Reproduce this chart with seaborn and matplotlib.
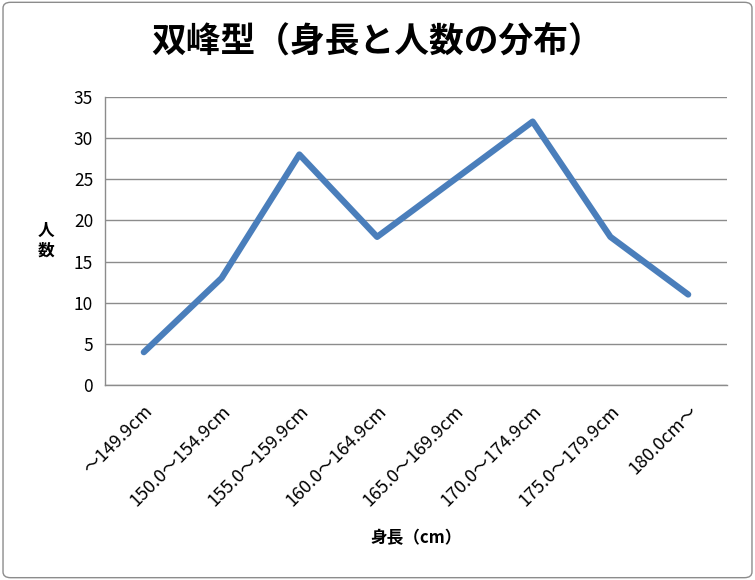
import matplotlib
matplotlib.use('Agg')
import matplotlib.pyplot as plt
import seaborn as sns
import pandas as pd
from matplotlib.patches import FancyBboxPatch

# data
categories = ['～149.9cm', '150.0～154.9cm', '155.0～159.9cm', '160.0～164.9cm',
              '165.0～169.9cm', '170.0～174.9cm', '175.0～179.9cm', '180.0cm～']
counts = [4, 13, 28, 18, 25, 32, 18, 11]
y_ticks = [0, 5, 10, 15, 20, 25, 30, 35]

df = pd.DataFrame({'height': categories, 'count': counts})

sns.set_style('white', {'text.color': 'black', 'xtick.color': 'black',
                        'ytick.color': 'black', 'axes.labelcolor': 'black'})
plt.rcParams['font.family'] = ['Noto Sans CJK JP', 'DejaVu Sans']

fig = plt.figure(figsize=(7.55, 5.8), dpi=100)
ax = fig.add_axes([0.139, 0.336, 0.824, 0.497])

sns.lineplot(data=df, x='height', y='count', ax=ax, color='#4a7ebb',
             linewidth=4.5, sort=False)

ax.set_xlim(-0.5, len(categories) - 0.5)
ax.set_ylim(0, 35)
ax.set_yticks(y_ticks)
ax.yaxis.grid(True, color='#8c8c8c', linewidth=1)
ax.set_axisbelow(True)

# category labels at centres, tick marks at boundaries
ax.set_xticks(range(len(categories)))
ax.set_xticklabels(categories, rotation=45, ha='right', rotation_mode='anchor', fontsize=13)
ax.set_xticks([i - 0.5 for i in range(len(categories) + 1)], minor=True)
ax.tick_params(axis='x', which='major', length=0, pad=12, labelcolor='black')
ax.tick_params(axis='x', which='minor', length=5, color='#8c8c8c', width=1)
ax.tick_params(axis='y', length=5, color='#8c8c8c', width=1, labelsize=12.5, labelcolor='black')

for side in ['top', 'right']:
    ax.spines[side].set_visible(False)
for side in ['left', 'bottom']:
    ax.spines[side].set_color('#8c8c8c')
    ax.spines[side].set_linewidth(1)

ax.set_xlabel('身長（cm）', fontsize=12, fontweight='bold', labelpad=14, color='black')
ax.set_ylabel('人\n数', rotation=0, fontsize=12, fontweight='bold', color='black',
              va='center', ha='center', labelpad=20, linespacing=1.1)

fig.suptitle('双峰型（身長と人数の分布）', fontsize=25, fontweight='bold',
             x=0.5, y=0.96, color='black')

# outer chart border
border = FancyBboxPatch((0.004, 0.004), 0.992, 0.992, boxstyle='round,pad=0,rounding_size=0.01',
                        transform=fig.transFigure, fill=False, edgecolor='#8c8c8c', linewidth=1)
fig.patches.append(border)

fig.savefig('out.png', dpi=100)
